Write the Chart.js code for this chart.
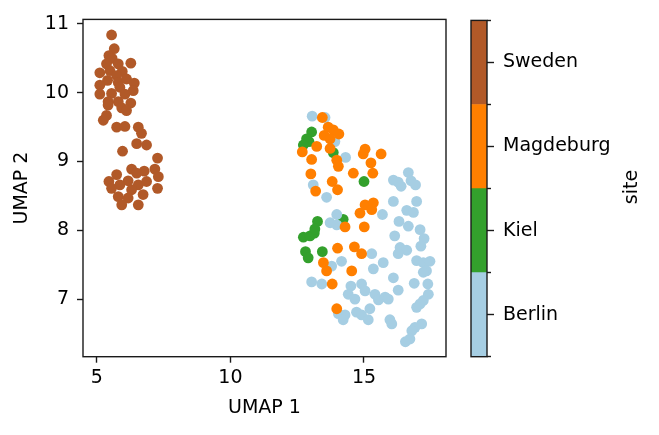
<!DOCTYPE html>
<html>
<head>
<meta charset="utf-8">
<script src="https://cdn.jsdelivr.net/npm/chart.js@4.4.1/dist/chart.umd.min.js"></script>
<style>
  html, body { margin: 0; padding: 0; background: #fff; }
  #wrap { position: relative; width: 659px; height: 435px; }
  #main { position: absolute; left: 0; top: 0; }
  #cbar { position: absolute; left: 460px; top: 0; }
</style>
</head>
<body>
<div id="wrap">
  <canvas id="main" width="460" height="435"></canvas>
  <canvas id="cbar" width="199" height="435"></canvas>
</div>
<script>
// Sites and their colours (Paired colormap)
const sites = ['Berlin', 'Kiel', 'Magdeburg', 'Sweden'];
const siteColors = ['#a6cee3', '#33a02c', '#ff7f00', '#b15928'];

// UMAP coordinates
const berlinX = [13.06, 13.54, 13.91, 14.31, 13.10, 13.60, 16.10, 16.28, 16.39, 16.66, 16.76, 16.93, 16.10, 16.97, 16.60, 16.85,
  15.69, 13.98, 13.73, 13.98, 16.31, 17.10, 16.66, 16.15, 17.25, 17.13, 16.35, 16.60, 16.28, 15.29, 14.16, 13.79,
  15.72, 15.35, 16.97, 17.22, 17.47, 17.34, 17.22, 16.10, 13.04, 13.42, 14.51, 14.91, 16.88, 17.39, 16.28, 14.41,
  14.66, 15.04, 15.41, 15.54, 15.79, 15.91, 17.41, 17.22, 17.10, 16.97, 15.22, 14.04, 14.29, 14.72, 14.91, 15.16,
  14.22, 15.97, 16.04, 17.16, 16.91, 16.79, 16.72, 16.55];
const berlinY = [9.66, 9.64, 9.29, 9.06, 8.66, 8.48, 8.73, 8.70, 8.64, 8.84, 8.72, 8.66, 8.42, 8.42, 8.29, 8.26,
  8.23, 8.23, 8.11, 8.08, 8.13, 8.01, 8.06, 7.92, 7.88, 7.77, 7.75, 7.71, 7.66, 7.66, 7.55, 7.48,
  7.53, 7.44, 7.56, 7.53, 7.55, 7.41, 7.39, 7.31, 7.25, 7.22, 7.19, 7.22, 7.23, 7.22, 7.13, 7.07,
  7.00, 7.12, 7.07, 6.99, 7.03, 7.00, 7.07, 6.98, 6.93, 6.88, 6.86, 6.79, 6.77, 6.81, 6.77, 6.70,
  6.70, 6.70, 6.64, 6.64, 6.59, 6.54, 6.42, 6.38];

const kielX = [13.04, 12.85, 12.94, 12.73, 13.85, 15.00, 13.26, 14.22, 12.73, 12.98, 13.14, 13.16, 12.81, 12.91, 13.44];
const kielY = [9.43, 9.33, 9.29, 9.24, 9.13, 8.71, 8.13, 8.16, 7.90, 7.92, 7.96, 8.02, 7.69, 7.60, 7.69];

const magdeburgX = [13.44, 13.66, 13.85, 14.06, 13.51, 13.73, 13.23, 12.69, 13.73, 13.04, 13.98, 14.04, 15.04, 14.97,
  15.64, 15.26, 15.33, 14.60, 13.01, 13.81, 14.01, 13.19, 15.04, 15.35, 15.29, 14.85, 14.29, 15.01, 14.01, 14.64,
  14.91, 13.48, 13.60, 14.54, 13.81, 13.98];
const magdeburgY = [9.64, 9.50, 9.46, 9.40, 9.38, 9.33, 9.22, 9.14, 9.19, 9.03, 9.02, 8.93, 9.18, 9.11,
  9.11, 8.98, 8.83, 8.83, 8.82, 8.71, 8.59, 8.57, 8.37, 8.40, 8.30, 8.25, 8.05, 8.05, 7.74, 7.76,
  7.66, 7.53, 7.41, 7.41, 7.22, 6.86];

const swedenX = [5.55, 5.65, 5.45, 5.57, 5.36, 5.80, 6.27, 5.11, 5.49, 5.95, 5.74, 5.40, 5.80, 6.11, 5.11, 6.40,
  5.86, 6.36, 5.11, 5.55, 6.05, 5.42, 5.80, 6.27, 5.42, 5.93, 6.11, 5.36, 5.24, 5.74, 6.05, 6.55,
  6.67, 6.49, 6.86, 5.96, 7.27, 6.30, 6.77, 7.17, 5.74, 6.49, 5.45, 6.17, 7.30, 5.86, 6.55, 6.86,
  5.55, 6.30, 7.27, 5.80, 6.17, 6.73, 5.93, 6.55];
const swedenY = [10.84, 10.64, 10.54, 10.50, 10.42, 10.42, 10.43, 10.29, 10.32, 10.31, 10.25, 10.18, 10.15, 10.20, 10.11, 10.14,
  10.08, 10.03, 9.98, 9.99, 9.98, 9.87, 9.87, 9.85, 9.82, 9.78, 9.74, 9.67, 9.60, 9.50, 9.51, 9.50,
  9.41, 9.26, 9.24, 9.15, 9.05, 8.89, 8.86, 8.89, 8.81, 8.83, 8.71, 8.72, 8.78, 8.66, 8.66, 8.71,
  8.61, 8.59, 8.61, 8.49, 8.47, 8.52, 8.37, 8.37];

// Tick labels
const xTicks = [5, 10, 15];
const yTicks = [7, 8, 9, 10, 11];
const cbTicks = [0, 0.5, 1, 1.5, 2, 2.5, 3, 3.5, 4];

const ink = '#1a1a1a';
Chart.defaults.font.family = "'DejaVu Sans', sans-serif";
Chart.defaults.font.size = 19;
Chart.defaults.color = '#000';

function toPoints(xs, ys) {
    return xs.map((x, i) => ({ x: x, y: ys[i] }));
}

// Draws the four spines round the plot area
const boxPlugin = {
    id: 'box',
    afterDatasetsDraw(chart) {
        const a = chart.chartArea;
        const ctx = chart.ctx;
        ctx.save();
        ctx.strokeStyle = ink;
        ctx.lineWidth = 1.4;
        ctx.strokeRect(a.left, a.top, a.right - a.left, a.bottom - a.top);
        ctx.restore();
    }
};

const seriesX = [berlinX, kielX, magdeburgX, swedenX];
const seriesY = [berlinY, kielY, magdeburgY, swedenY];
const drawOrder = [2, 0, 1, 3];

new Chart(document.getElementById('main').getContext('2d'), {
    type: 'scatter',
    data: {
        datasets: drawOrder.map(i => ({
            label: sites[i],
            data: toPoints(seriesX[i], seriesY[i]),
            backgroundColor: siteColors[i],
            borderWidth: 0,
            pointRadius: 5.4,
            pointHoverRadius: 5.4
        }))
    },
    options: {
        responsive: false,
        animation: false,
        devicePixelRatio: 1,
        layout: { padding: { top: 16.7, right: 14, bottom: 0, left: 0 } },
        plugins: { legend: { display: false }, tooltip: { enabled: false } },
        scales: {
            x: {
                type: 'linear',
                min: 4.48,
                max: 18.07,
                afterBuildTicks: s => { s.ticks = xTicks.map(v => ({ value: v })); },
                afterFit: s => { s.height = 78.3; },
                border: { display: false },
                grid: { drawOnChartArea: false, tickLength: 6, tickColor: ink, tickWidth: 1.4 },
                ticks: { padding: 4, color: '#000' },
                title: { display: true, text: 'UMAP 1', color: '#000', padding: { top: 0, bottom: 15.5 } }
            },
            y: {
                type: 'linear',
                min: 6.163,
                max: 11.066,
                afterBuildTicks: s => { s.ticks = yTicks.map(v => ({ value: v })); },
                afterFit: s => { s.width = 83; },
                border: { display: false },
                grid: { drawOnChartArea: false, tickLength: 6, tickColor: ink, tickWidth: 1.4 },
                ticks: { padding: 8, color: '#000' },
                title: { display: true, text: 'UMAP 2', color: '#000', padding: { top: 11, bottom: 0 } }
            }
        }
    },
    plugins: [boxPlugin]
});

// Colorbar label, reads bottom to top like the original
const cbTitlePlugin = {
    id: 'cbTitle',
    afterDraw(chart) {
        const ctx = chart.ctx;
        ctx.save();
        ctx.translate(172, 187);
        ctx.rotate(-Math.PI / 2);
        ctx.font = "19px 'DejaVu Sans', sans-serif";
        ctx.fillStyle = '#000';
        ctx.textAlign = 'center';
        ctx.textBaseline = 'middle';
        ctx.fillText('site', 0, 0);
        ctx.restore();
    }
};

new Chart(document.getElementById('cbar').getContext('2d'), {
    type: 'bar',
    data: {
        labels: [''],
        datasets: sites.map((s, i) => ({
            label: s,
            data: [1],
            backgroundColor: siteColors[i],
            borderWidth: 0,
            barPercentage: 1,
            categoryPercentage: 1
        }))
    },
    options: {
        responsive: false,
        animation: false,
        devicePixelRatio: 1,
        layout: { padding: { top: 16.7, right: 0, bottom: 78.3, left: 11 } },
        plugins: { legend: { display: false }, tooltip: { enabled: false } },
        scales: {
            x: { stacked: true, display: false },
            y: {
                stacked: true,
                position: 'right',
                min: 0,
                max: 4,
                afterBuildTicks: s => { s.ticks = cbTicks.map(v => ({ value: v })); },
                afterFit: s => { s.width = 172; },
                border: { display: false },
                grid: {
                    drawOnChartArea: false,
                    tickLength: 7,
                    tickColor: ink,
                    tickWidth: 1.4,
                    tickBorderDash: c => (c.tick && c.tick.value % 1 === 0) ? [4, 40] : []
                },
                ticks: {
                    padding: 9,
                    color: '#000',
                    autoSkip: false,
                    callback: v => (v % 1 === 0.5) ? sites[Math.floor(v)] : ''
                }
            }
        }
    },
    plugins: [boxPlugin, cbTitlePlugin]
});
</script>
</body>
</html>
